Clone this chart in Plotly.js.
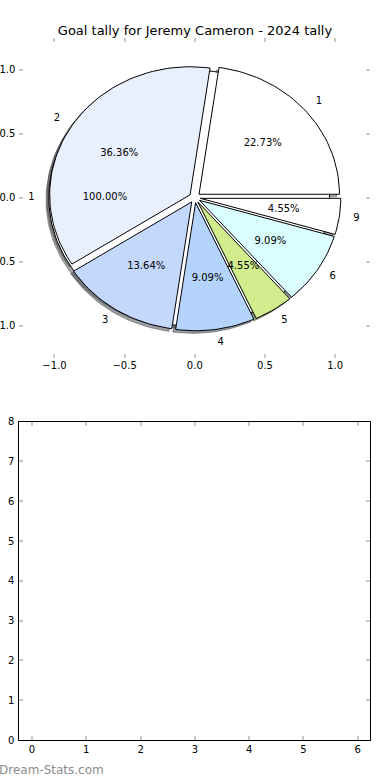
<!DOCTYPE html>
<html>
<head>
<meta charset="utf-8">
<script src="https://cdn.plot.ly/plotly-3.0.1.min.js"></script>
<style>html,body{margin:0;padding:0;background:#fff;}#chart{width:390px;height:780px;}</style>
</head>
<body>
<div id="chart"></div>
<script>
// ---- data ----
const chartTitle = 'Goal tally for Jeremy Cameron - 2024 tally';
const sliceLabels = ['1', '2', '3', '4', '5', '6', '9'];
const sliceGoals = [5, 8, 3, 2, 1, 2, 1];
const sliceColors = ['#ffffff', '#e8f0fe', '#c4d8fe', '#b4d4fe', '#d0ec8c', '#dafdff', '#ffffff'];
const tallyLabels = ['1'];
const tallyValues = [1];
const tallyColors = ['#ffffff'];
const watermark = 'Dream-Stats.com';

// ---- pie geometry settings (matplotlib-like) ----
const explode = 0.04, pctDist = 0.6, labelDist = 1.1, shadowOff = -0.02;
const FONT = 'DejaVu Sans';

function hexToRgb(h) {
  const n = parseInt(h.slice(1), 16);
  return [(n >> 16) & 255, (n >> 8) & 255, n & 255];
}

function buildPie(labels, values, colors) {
  const total = values.reduce((a, b) => a + b, 0);
  let cum = 0;
  const wedges = [];
  values.forEach((v, i) => {
    const t1 = cum / total * 360;
    cum += v;
    const t2 = cum / total * 360;
    const tm = (t1 + t2) / 2 * Math.PI / 180;
    const cx = explode * Math.cos(tm), cy = explode * Math.sin(tm);
    const full = (t2 - t1) >= 359.999;
    const xs = [], ys = [];
    if (!full) { xs.push(cx); ys.push(cy); }
    const n = Math.max(8, Math.ceil((t2 - t1) / 2));
    for (let k = 0; k <= n; k++) {
      const a = (t1 + (t2 - t1) * k / n) * Math.PI / 180;
      xs.push(cx + Math.cos(a)); ys.push(cy + Math.sin(a));
    }
    if (!full) { xs.push(cx); ys.push(cy); }
    wedges.push({
      xs, ys, color: colors[i], label: labels[i],
      lx: cx + labelDist * Math.cos(tm), ly: cy + labelDist * Math.sin(tm),
      px: cx + pctDist * Math.cos(tm), py: cy + pctDist * Math.sin(tm),
      pct: (v / total * 100).toFixed(2) + '%'
    });
  });
  return wedges;
}

const tallyPie = buildPie(tallyLabels, tallyValues, tallyColors);
const mainPie = buildPie(sliceLabels, sliceGoals, sliceColors);
const allWedges = tallyPie.concat(mainPie);

const traces = [];
// shadows first (below everything)
allWedges.forEach(w => {
  const c = hexToRgb(w.color).map(x => Math.round(x * 0.3));
  const col = `rgba(${c[0]},${c[1]},${c[2]},0.5)`;
  traces.push({
    type: 'scatter', mode: 'lines', x: w.xs.map(x => x + shadowOff), y: w.ys.map(y => y + shadowOff),
    fill: 'toself', fillcolor: col, line: {color: col, width: 1},
    hoverinfo: 'skip', showlegend: false, xaxis: 'x', yaxis: 'y'
  });
});
// wedges
allWedges.forEach(w => {
  traces.push({
    type: 'scatter', mode: 'lines', x: w.xs, y: w.ys,
    fill: 'toself', fillcolor: w.color, line: {color: '#000000', width: 1},
    hoverinfo: 'skip', showlegend: false, xaxis: 'x', yaxis: 'y'
  });
});
// labels
traces.push({
  type: 'scatter', mode: 'text',
  x: allWedges.map(w => w.lx), y: allWedges.map(w => w.ly),
  text: allWedges.map(w => w.label),
  textposition: allWedges.map(w => w.lx > 0 ? 'middle right' : 'middle left'),
  textfont: {family: FONT, size: 10, color: '#000'},
  cliponaxis: false, hoverinfo: 'skip', showlegend: false, xaxis: 'x', yaxis: 'y'
});
// percentages
traces.push({
  type: 'scatter', mode: 'text',
  x: allWedges.map(w => w.px), y: allWedges.map(w => w.py),
  text: allWedges.map(w => w.pct),
  textposition: 'middle center',
  textfont: {family: FONT, size: 10, color: '#000'},
  cliponaxis: false, hoverinfo: 'skip', showlegend: false, xaxis: 'x', yaxis: 'y'
});
// empty second axes
traces.push({type: 'scatter', mode: 'markers', x: [], y: [], xaxis: 'x2', yaxis: 'y2', showlegend: false});

const W = 390, H = 780;
const tickCommon = {
  ticks: 'inside', ticklen: 4, tickwidth: 2, tickcolor: '#c8c8c8',
  showgrid: false, zeroline: false, fixedrange: true, automargin: false,
  tickfont: {family: FONT, size: 10, color: '#000'}
};

const layout = {
  width: W, height: H,
  margin: {l: 0, r: 0, t: 0, b: 0},
  paper_bgcolor: '#fff', plot_bgcolor: '#fff',
  showlegend: false, hovermode: false,
  title: {
    text: chartTitle, font: {family: FONT, size: 13, color: '#000'},
    x: 0.5, xref: 'container', xanchor: 'center',
    y: 1 - 30 / H, yref: 'container', yanchor: 'middle'
  },
  xaxis: Object.assign({}, tickCommon, {
    domain: [19.3 / W, 370.3 / W], range: [-1.25, 1.25],
    tickvals: [-1, -0.5, 0, 0.5, 1], tickformat: '.1f',
    showline: false, mirror: 'ticks', anchor: 'y'
  }),
  yaxis: Object.assign({}, tickCommon, {
    domain: [1 - 357.7 / H, 1 - 37.5 / H], range: [-1.25, 1.25],
    tickvals: [-1, -0.5, 0, 0.5, 1], tickformat: '.1f', ticklabelstandoff: 3,
    showline: false, mirror: 'ticks', anchor: 'x'
  }),
  xaxis2: Object.assign({}, tickCommon, {
    domain: [19.3 / W, 370.3 / W], range: [-0.234, 6.232],
    tick0: 0, dtick: 1,
    showline: true, linecolor: '#000', linewidth: 1, mirror: 'ticks', anchor: 'y2'
  }),
  yaxis2: Object.assign({}, tickCommon, {
    domain: [1 - 740 / H, 1 - 421.7 / H], range: [0, 8],
    tick0: 0, dtick: 1, ticklabelstandoff: 2,
    showline: true, linecolor: '#000', linewidth: 1, mirror: 'ticks', anchor: 'x2'
  }),
  annotations: [{
    text: watermark, xref: 'paper', yref: 'paper', x: 0, y: 1 - 770 / H,
    xanchor: 'left', yanchor: 'middle', showarrow: false, xshift: -3,
    font: {family: FONT, size: 12, color: '#8c8c8c'}
  }]
};

Plotly.newPlot('chart', traces, layout, {staticPlot: true, displayModeBar: false});
</script>
</body>
</html>
